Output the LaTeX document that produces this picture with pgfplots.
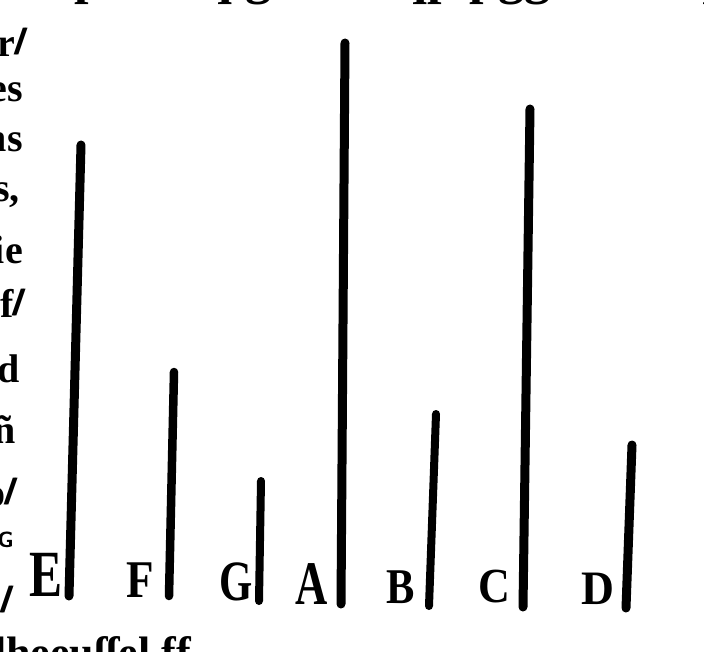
\documentclass[border=0pt]{standalone}
\usepackage{pgfplots}
\pgfplotsset{compat=1.18}
\usepackage{graphicx}
\usepackage{fontspec}
\setmainfont{Liberation Serif}
\newcommand{\slh}{\kern0.02em\raisebox{0.05em}{/\kern-0.32em/}}
\begin{document}
\begin{tikzpicture}
\begin{axis}[
  width=704pt, height=652pt, scale only axis,
  xmin=0, xmax=704, ymin=0, ymax=652, y dir=reverse,
  axis lines=none, clip=false,
]
% bars: (bottom) (top), pixel coordinates
\addplot[black, line width=9pt, line cap=round] coordinates {(69,596) (81,145)};
\addplot[black, line width=8.5pt, line cap=round] coordinates {(169,596) (174,372)};
\addplot[black, line width=8pt, line cap=round] coordinates {(259,601) (261,481)};
\addplot[black, line width=9pt, line cap=round] coordinates {(341,604) (345,43)};
\addplot[black, line width=8pt, line cap=round] coordinates {(429,606) (436,414)};
\addplot[black, line width=9pt, line cap=round] coordinates {(523,607) (530,109)};
\addplot[black, line width=9pt, line cap=round] coordinates {(626,608) (632,445)};
% letter labels
\node[inner sep=0pt, font=\bfseries\fontsize{66}{66}\selectfont, xscale=0.75] at (axis cs:46,575) {E};
\node[inner sep=0pt, font=\bfseries\fontsize{53}{53}\selectfont, xscale=0.85] at (axis cs:140,580) {F};
\node[inner sep=0pt, font=\bfseries\fontsize{57}{57}\selectfont, xscale=0.75] at (axis cs:236,582) {G};
\node[inner sep=0pt, font=\bfseries\fontsize{62}{62}\selectfont, xscale=0.72] at (axis cs:312,584) {A};
\node[inner sep=0pt, font=\bfseries\fontsize{50}{50}\selectfont, xscale=0.85] at (axis cs:401,587) {B};
\node[inner sep=0pt, font=\bfseries\fontsize{49}{49}\selectfont, xscale=0.9] at (axis cs:494,587) {C};
\node[inner sep=0pt, font=\bfseries\fontsize{48}{48}\selectfont, xscale=0.95] at (axis cs:598,589) {D};
% cut-off text of the page at the left edge
\begin{scope}[every node/.style={inner sep=0pt, anchor=east, font=\bfseries\fontsize{40}{40}\selectfont}]
\node at (axis cs:26,42) {r\slh};
\node at (axis cs:23,92) {es};
\node at (axis cs:23,142) {ns};
\node at (axis cs:20,195) {s,};
\node at (axis cs:23,250) {ie};
\node at (axis cs:24,303) {f\slh};
\node at (axis cs:20,369) {d};
\node at (axis cs:16,430) {ñ};
\node at (axis cs:16,493) {o\slh};
\node[font=\bfseries\sffamily\fontsize{22}{22}\selectfont] at (axis cs:14,540) {G};
\node at (axis cs:12,600) {\slh};
\end{scope}
\node[inner sep=0pt, anchor=north west, font=\bfseries\fontsize{44}{44}\selectfont] at (axis cs:-6,636) {lheeuſſel ff};
\node[inner sep=0pt, anchor=base west, font=\bfseries\fontsize{52}{52}\selectfont] at (axis cs:60,-6) {ſp nnnq gzen\quad qp\ pggzmmnqzm};
\end{axis}
\pgfresetboundingbox
\useasboundingbox (current axis.south west) rectangle (current axis.north east);
\end{tikzpicture}
\end{document}
